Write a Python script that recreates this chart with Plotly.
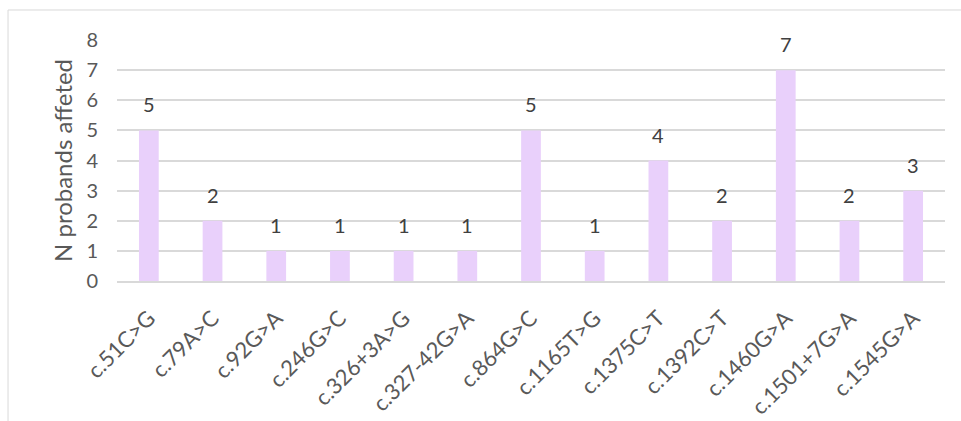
import plotly.graph_objects as go

categories = ["c.51C>G", "c.79A>C", "c.92G>A", "c.246G>C", "c.326+3A>G", "c.327-42G>A",
              "c.864G>C", "c.1165T>G", "c.1375C>T", "c.1392C>T", "c.1460G>A", "c.1501+7G>A", "c.1545G>A"]
values = [5, 2, 1, 1, 1, 1, 5, 1, 4, 2, 7, 2, 3]
y_ticks = [0, 1, 2, 3, 4, 5, 6, 7, 8]

FONT = "Lato, Calibri, sans-serif"

fig = go.Figure()
fig.add_trace(go.Bar(
    x=categories, y=values,
    marker=dict(color="#E9D0FB", line=dict(width=0)),
    width=0.31,
    hoverinfo="x+y",
))

for c, v in zip(categories, values):
    fig.add_annotation(x=c, y=v, text=str(v), showarrow=False, yanchor="bottom",
                       yshift=12, font=dict(family=FONT, size=20, color="#404040"))

fig.add_shape(type="rect", xref="paper", yref="paper",
              x0=-0.1316, x1=1.2, y0=-0.8, y1=1.1245,
              line=dict(color="#D9D9D9", width=1), fillcolor="rgba(0,0,0,0)", layer="below")

fig.update_layout(
    width=961, height=421,
    margin=dict(l=117, r=16, t=40, b=140),
    paper_bgcolor="white", plot_bgcolor="white",
    showlegend=False,
    font=dict(family=FONT, color="#595959"),
    xaxis=dict(
        type="category", tickangle=-45, tickfont=dict(size=22, color="#595959"),
        showgrid=False, showline=True, linecolor="#D9D9D9", linewidth=1.5,
        ticks="", ticklabelstandoff=14, automargin=False,
    ),
    yaxis=dict(
        range=[0, 8], tickvals=y_ticks, tickfont=dict(size=20, color="#595959"),
        showgrid=True, gridcolor="#D9D9D9", gridwidth=1.5, zeroline=False,
        showline=False, ticks="", ticklabelstandoff=18, automargin=False,
        title=dict(text="N probands affeted", font=dict(size=24, color="#595959"), standoff=6),
    ),
)

fig.write_html("out.html")
